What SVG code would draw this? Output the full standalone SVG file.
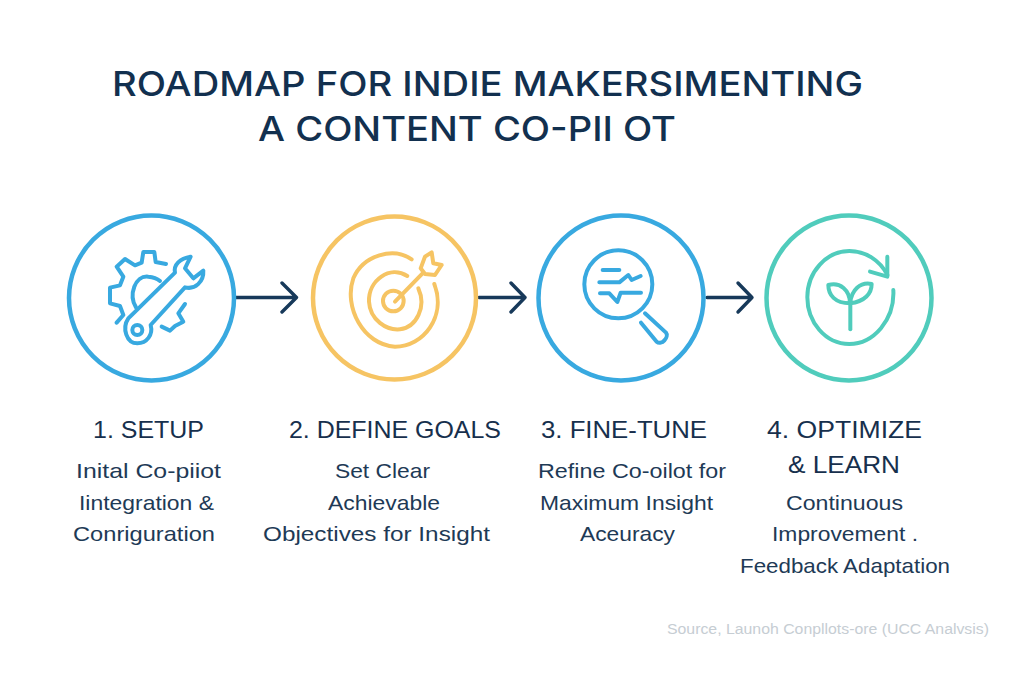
<svg xmlns="http://www.w3.org/2000/svg" width="1024" height="683" viewBox="0 0 1024 683">
<style>
.ring{fill:none;stroke-width:4.5}
.ico{fill:none;stroke-width:12;stroke-linecap:round;stroke-linejoin:round}
.blue{stroke:#38a9e0}.yellow{stroke:#f6c463}.teal{stroke:#50ccbc}
.conn{fill:none;stroke:#17395a;stroke-width:3.4;stroke-linecap:round;stroke-linejoin:round}
text{font-family:"Liberation Sans",Arial,sans-serif;fill:#17304d}
.title{font-family:Inter,"Liberation Sans",sans-serif;font-size:34px;font-weight:500;fill:#12304f}
.head{font-size:24px}
.body{font-size:21px;fill:#1e3a56}
.src{font-size:15.500px;fill:#c6cdd3}
</style>
<rect width="1024" height="683" fill="#ffffff"/>
<g id="title">
<text class="title" x="112" y="96" textLength="751" lengthAdjust="spacingAndGlyphs">ROADMAP FOR INDIE MAKERSIMENTING</text>
<text class="title" x="258" y="141" textLength="418" lengthAdjust="spacingAndGlyphs">A CONTENT CO-PII OT</text>
</g>
<g id="connectors">
<path class="conn" d="M236 297.500H296M282 283L296.500 297.500L282 312"/>
<path class="conn" d="M479 297.500H524.500M511 283L525 297.500L511 312"/>
<path class="conn" d="M707 297.500H751.500M738 283L752 297.500L738 312"/>
</g>
<g id="node-1">
<circle class="ring blue" cx="151.500" cy="298" r="82.500"/>
<g transform="translate(60 200) scale(.3333)" class="ico blue">
<path d="M318 192L287 186L283 156L250 156L245 188L225 196L195 177L170 200L190 230L180 256L150 263V310L180 318L190 345L170 368"/>
<path d="M228 322C205 285 225 225 265 230C280 231 292 236 300 243"/>
<path d="M375 312L355 340L370 365L345 378L330 392L305 380"/>
<path d="M205 355L345 218C340 195 360 175 392 170L375 205L400 235L430 212C432 245 405 270 375 262L272 375C280 405 260 430 232 430C200 430 185 385 205 355Z"/>
<circle cx="232" cy="390" r="15"/>
</g>
<text class="head" x="93" y="438" textLength="111" lengthAdjust="spacingAndGlyphs">1. SETUP</text>
<text class="body" x="76" y="478" textLength="145" lengthAdjust="spacingAndGlyphs">Inital Co-piiot</text>
<text class="body" x="79" y="510" textLength="135" lengthAdjust="spacingAndGlyphs">Iintegration &amp;</text>
<text class="body" x="73" y="541" textLength="142" lengthAdjust="spacingAndGlyphs">Conriguration</text>
</g>
<g id="node-2">
<circle class="ring yellow" cx="394.500" cy="298" r="81.500"/>
<g transform="translate(300 200) scale(.3333)" class="ico yellow">
<path d="M335 178C280 140 190 165 160 235C130 320 190 435 285 440C370 440 440 350 403 252"/>
<path d="M322 228C270 195 205 240 207 305C210 360 260 392 300 388C350 382 380 320 355 265"/>
<circle cx="280" cy="303" r="31"/>
<path d="M285 305L370 218"/>
<path d="M362 205L375 170L395 157L400 190L425 195L405 225L375 222Z"/>
</g>
<text class="head" x="289" y="438" textLength="212" lengthAdjust="spacingAndGlyphs">2. DEFINE GOALS</text>
<text class="body" x="335" y="478" textLength="95" lengthAdjust="spacingAndGlyphs">Set Clear</text>
<text class="body" x="328" y="510" textLength="112" lengthAdjust="spacingAndGlyphs">Achievable</text>
<text class="body" x="263" y="541" textLength="227" lengthAdjust="spacingAndGlyphs">Objectives for  Insight</text>
</g>
<g id="node-3">
<circle class="ring blue" cx="621" cy="298" r="82.500"/>
<g transform="translate(530 200) scale(.3333)" class="ico blue">
<circle cx="265" cy="253" r="102"/>
<path d="M218 210H268"/>
<path d="M208 247H268L295 225L305 240L332 228"/>
<path d="M210 280H238L262 306L272 278H333"/>
<path d="M345 340L408 398C418 410 395 438 380 425L333 368"/>
</g>
<text class="head" x="541" y="438" textLength="166" lengthAdjust="spacingAndGlyphs">3. FINE-TUNE</text>
<text class="body" x="538" y="478" textLength="188" lengthAdjust="spacingAndGlyphs">Refine Co-oilot for</text>
<text class="body" x="540" y="510" textLength="173" lengthAdjust="spacingAndGlyphs">Maximum Insight</text>
<text class="body" x="580" y="541" textLength="95" lengthAdjust="spacingAndGlyphs">Aceuracy</text>
</g>
<g id="node-4">
<circle class="ring teal" cx="849" cy="298" r="82.500"/>
<g transform="translate(750 200) scale(.3333)" class="ico teal">
<path d="M430 270C435 360 370 432 298 432C225 432 172 365 172 292C172 215 230 153 298 153C345 153 390 180 412 225"/>
<path d="M412 170L412 230L360 215" />
<path d="M301 388V312"/>
<path d="M300 310C255 310 235 285 235 255C270 245 300 270 300 310Z"/>
<path d="M300 310C345 305 365 280 365 252C330 245 305 270 300 310Z"/>
</g>
<text class="head" x="767" y="438" textLength="155" lengthAdjust="spacingAndGlyphs">4. OPTIMIZE</text>
<text class="head" x="788" y="473" textLength="112" lengthAdjust="spacingAndGlyphs">&amp; LEARN</text>
<text class="body" x="786" y="510" textLength="117" lengthAdjust="spacingAndGlyphs">Continuous</text>
<text class="body" x="772" y="541" textLength="146" lengthAdjust="spacingAndGlyphs">Improvement .</text>
<text class="body" x="740" y="573" textLength="210" lengthAdjust="spacingAndGlyphs">Feedback Adaptation</text>
</g>
<g id="source">
<text class="src" x="667" y="634" textLength="322" lengthAdjust="spacingAndGlyphs">Source, Launoh Conpllots-ore (UCC Analvsis)</text>
</g>
</svg>
